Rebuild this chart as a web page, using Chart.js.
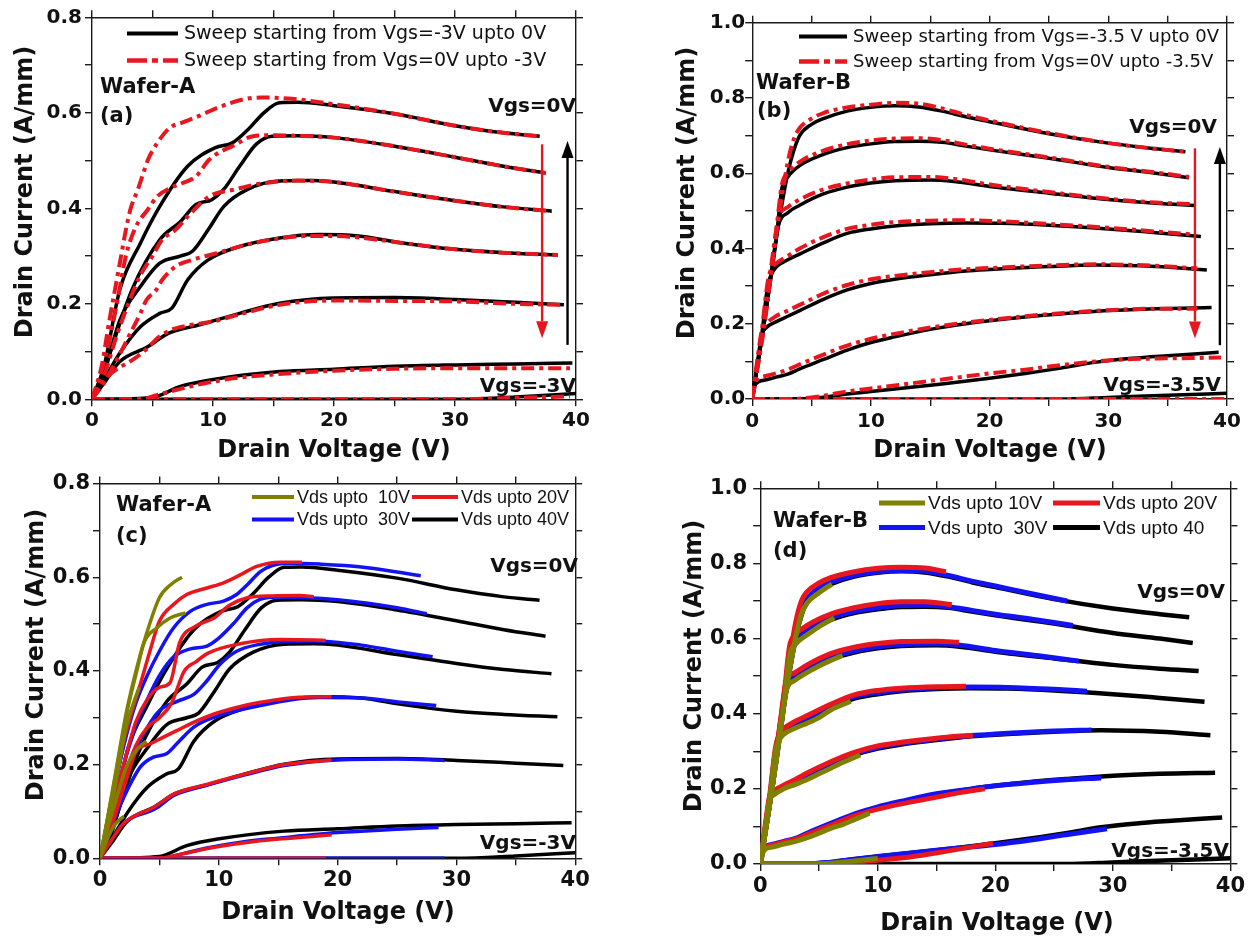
<!DOCTYPE html>
<html><head><meta charset="utf-8">
<script src="https://cdn.jsdelivr.net/npm/chart.js@4.4.0/dist/chart.umd.min.js"></script>
<style>
html,body{margin:0;padding:0;background:#fff;}
body{width:1250px;height:939px;position:relative;overflow:hidden;}
canvas{position:absolute;}
</style></head><body>
<canvas id="pa" width="625" height="470" style="left:0;top:0;width:625px;height:470px"></canvas>
<canvas id="pb" width="625" height="470" style="left:625px;top:0;width:625px;height:470px"></canvas>
<canvas id="pc" width="625" height="469" style="left:0;top:470px;width:625px;height:469px"></canvas>
<canvas id="pd" width="625" height="469" style="left:625px;top:470px;width:625px;height:469px"></canvas>
<script>
// ---------------- data ----------------
const X_MAJOR = [0, 10, 20, 30, 40];
const Y_MAJOR_A = [0, 0.2, 0.4, 0.6, 0.8];
const Y_MAJOR_B = [0, 0.2, 0.4, 0.6, 0.8, 1.0];
const VGS_A = ['0', '-0.5', '-1', '-1.5', '-2', '-2.5', '-3'];
const VGS_B = ['0', '-0.5', '-1', '-1.5', '-2', '-2.5', '-3', '-3.5'];

// Wafer-A, sweep from Vgs=-3V up to 0V (black)
const A_BLACK = [
 [[0,0],[1,0.07],[2.3,0.23],[4,0.327],[5.6,0.404],[7.9,0.488],[10.2,0.527],[11.6,0.537],[12.9,0.565],[14.2,0.6],[15.5,0.621],[17,0.622],[20,0.615],[25,0.598],[30,0.573],[34,0.558],[37,0.551]],
 [[0,0],[1,0.062],[3.3,0.229],[5.6,0.334],[7.3,0.372],[8.6,0.408],[9.9,0.418],[10.9,0.44],[12.2,0.488],[13.6,0.535],[14.9,0.551],[17,0.552],[20,0.548],[25,0.53],[30,0.507],[34,0.488],[37.5,0.474]],
 [[0,0],[1,0.055],[2.3,0.166],[4,0.236],[5.6,0.285],[7.3,0.3],[8.3,0.31],[9.6,0.355],[10.9,0.404],[12.9,0.44],[15.5,0.457],[18,0.458],[20,0.455],[25,0.435],[30,0.416],[34,0.403],[38,0.394]],
 [[0,0],[1,0.041],[2.3,0.097],[4,0.152],[5.6,0.18],[6.6,0.191],[7.9,0.25],[9.6,0.292],[12.2,0.32],[15.5,0.338],[18.8,0.345],[22,0.342],[25.5,0.328],[30,0.314],[34,0.307],[38.5,0.302]],
 [[0,0],[1,0.034],[2.3,0.079],[4.6,0.11],[6.3,0.138],[8.9,0.156],[12.2,0.18],[15.5,0.201],[20,0.212],[25,0.213],[30,0.209],[35,0.203],[39,0.198]],
 [[0,0],[5,0.004],[7.3,0.027],[9.9,0.041],[15.5,0.058],[20,0.063],[25,0.069],[30,0.072],[35,0.074],[39.7,0.076]],
 [[0,0],[30,0],[35,0.005],[40,0.012]]
];
// Wafer-A, sweep from Vgs=0V up to -3V (red dash-dot)
const A_RED = [
 [[0,0],[0.8,0.07],[1.4,0.16],[2.3,0.285],[2.8,0.355],[3.2,0.4],[3.8,0.44],[4.2,0.47],[4.6,0.5],[5.4,0.537],[6.4,0.568],[7.5,0.58],[8.9,0.594],[10.3,0.61],[12.5,0.628],[14,0.632],[16.2,0.63],[20,0.618],[25,0.598],[30,0.573],[34,0.558],[37,0.551]],
 [[0,0],[0.8,0.06],[1.5,0.13],[2.2,0.22],[2.8,0.3],[3.6,0.36],[4.6,0.397],[5.4,0.425],[6.5,0.443],[7.5,0.453],[8.6,0.467],[9.7,0.502],[11.9,0.534],[13.3,0.551],[15,0.553],[17,0.552],[20,0.548],[25,0.53],[30,0.507],[34,0.488],[37.5,0.474]],
 [[0,0],[1,0.05],[2,0.13],[3,0.2],[4,0.26],[5,0.3],[5.8,0.334],[6.9,0.355],[8,0.385],[9.7,0.425],[11.9,0.44],[14,0.452],[17,0.458],[20,0.455],[25,0.435],[30,0.416],[34,0.403],[38,0.394]],
 [[0,0],[1,0.035],[2,0.08],[3,0.13],[4,0.18],[4.5,0.208],[5.3,0.229],[5.8,0.25],[6.9,0.278],[8.3,0.292],[10.3,0.306],[12.5,0.322],[15,0.335],[18,0.342],[20,0.342],[25.5,0.328],[30,0.314],[34,0.307],[38.5,0.302]],
 [[0,0],[0.5,0.02],[1.4,0.05],[2.5,0.07],[3.5,0.085],[4.5,0.105],[5.5,0.13],[6.5,0.145],[8,0.155],[10,0.163],[12.2,0.178],[15.5,0.198],[20,0.207],[25,0.206],[30,0.205],[35,0.2],[39,0.198]],
 [[0,0],[4,0],[5.5,0.01],[7,0.02],[9,0.032],[12,0.045],[15,0.052],[20,0.06],[25,0.064],[30,0.065],[35,0.065],[39.5,0.065]],
 [[0,0],[30,0],[35,0.003],[39.5,0.006]]
];
// Wafer-B, sweep from Vgs=-3.5V up to 0V (black)
const B_BLACK = [
 [[0,0],[1,0.2],[2,0.42],[3,0.6],[3.5,0.66],[4,0.7],[5,0.73],[6,0.745],[8,0.765],[10,0.775],[12,0.779],[14,0.776],[16,0.765],[18,0.75],[20,0.737],[25,0.705],[30,0.68],[34,0.665],[36.5,0.657]],
 [[0,0],[1,0.2],[2,0.42],[2.5,0.56],[3,0.59],[4,0.62],[6,0.65],[8,0.668],[10,0.678],[12,0.684],[14,0.685],[16,0.682],[18,0.672],[20,0.662],[25,0.64],[30,0.615],[34,0.6],[36.8,0.588]],
 [[0,0],[1,0.2],[1.8,0.38],[2.2,0.46],[3,0.495],[4,0.515],[6,0.545],[8,0.563],[10,0.574],[12,0.58],[15,0.582],[17,0.578],[20,0.565],[25,0.547],[30,0.53],[34,0.52],[37.3,0.514]],
 [[0,0],[0.8,0.17],[1.3,0.3],[1.6,0.33],[2,0.35],[3,0.37],[4,0.385],[6,0.415],[8,0.44],[10,0.452],[12,0.46],[15,0.466],[18,0.468],[21,0.467],[25,0.462],[30,0.452],[34,0.442],[37.8,0.432]],
 [[0,0],[0.5,0.11],[0.8,0.17],[1.2,0.19],[2,0.205],[3,0.22],[4,0.235],[6,0.265],[8,0.29],[10,0.307],[12,0.318],[15,0.33],[18,0.34],[20,0.344],[25,0.352],[29,0.356],[34,0.352],[38.3,0.343]],
 [[0,0],[0.3,0.04],[1,0.05],[2,0.058],[3,0.066],[4,0.08],[6,0.105],[8,0.13],[10,0.15],[12,0.165],[15,0.185],[18,0.2],[20,0.208],[23,0.218],[26,0.226],[30,0.235],[34,0.24],[38.7,0.243]],
 [[0,0],[4,0],[6,0.005],[8,0.013],[10,0.02],[13,0.03],[16,0.04],[20,0.055],[23,0.068],[26,0.082],[29,0.098],[32,0.108],[35,0.115],[39.3,0.124]],
 [[0,0],[26,0],[30,0.004],[35,0.01],[40,0.015]]
];
// Wafer-B, sweep from Vgs=0V up to -3.5V (red dash-dot)
const B_RED = [
 [[0,0],[1,0.19],[2,0.43],[3,0.63],[3.5,0.69],[4,0.72],[5,0.745],[6,0.76],[8,0.775],[10,0.782],[12,0.787],[14,0.785],[16,0.772],[18,0.755],[20,0.74],[25,0.707],[30,0.68],[34,0.665],[36.5,0.657]],
 [[0,0],[1,0.2],[2,0.44],[2.5,0.57],[3,0.6],[4,0.63],[6,0.66],[8,0.677],[10,0.687],[12,0.692],[14,0.693],[16,0.688],[18,0.676],[20,0.665],[25,0.642],[30,0.617],[34,0.602],[36.8,0.59]],
 [[0,0],[1,0.2],[1.8,0.4],[2.2,0.48],[3,0.51],[4,0.53],[6,0.557],[8,0.573],[10,0.583],[12,0.589],[15,0.59],[17,0.585],[20,0.57],[25,0.55],[30,0.532],[34,0.522],[37.3,0.518]],
 [[0,0],[0.8,0.18],[1.3,0.31],[1.6,0.345],[2,0.36],[3,0.38],[4,0.4],[6,0.43],[8,0.452],[10,0.463],[12,0.47],[15,0.474],[18,0.475],[21,0.472],[25,0.465],[30,0.455],[34,0.445],[37.3,0.437]],
 [[0,0],[0.5,0.12],[0.8,0.18],[1.2,0.2],[2,0.22],[3,0.235],[4,0.25],[6,0.28],[8,0.303],[10,0.318],[12,0.327],[15,0.337],[18,0.345],[20,0.348],[25,0.355],[29,0.358],[34,0.354],[37.5,0.347]],
 [[0,0],[0.3,0.045],[1,0.06],[2,0.068],[3,0.078],[4,0.092],[6,0.118],[8,0.142],[10,0.16],[12,0.173],[15,0.19],[18,0.203],[20,0.21],[23,0.22],[26,0.228],[30,0.236],[34,0.24],[37.5,0.24]],
 [[0,0],[3,0],[5,0.004],[8,0.02],[10,0.028],[13,0.04],[16,0.052],[20,0.068],[23,0.078],[26,0.09],[29,0.1],[32,0.106],[35,0.108],[39.5,0.11]],
 [[0,0],[40,0]]
];
// Wafer-A, Vds up to 30V / 20V / 10V (panel c). Vds up to 40V = A_BLACK
const C_BLUE = [
 [[0,0],[1,0.12],[2,0.24],[3,0.33],[3.9,0.386],[5,0.442],[6.2,0.492],[7.6,0.527],[9,0.542],[10.4,0.549],[11.5,0.563],[12.4,0.584],[13.5,0.612],[14.5,0.625],[16,0.63],[18.5,0.628],[22,0.622],[25.3,0.61],[27,0.603]],
 [[0,0],[1,0.1],[2,0.2],[3,0.28],[4,0.34],[5,0.39],[6.2,0.43],[7.6,0.447],[9,0.453],[10,0.47],[11.2,0.5],[12.4,0.535],[13.5,0.553],[15,0.558],[20,0.552],[25,0.535],[27.5,0.522]],
 [[0,0],[1,0.08],[2,0.16],[3,0.23],[4,0.28],[5,0.315],[6.5,0.335],[7.9,0.35],[9,0.379],[10.1,0.414],[11.5,0.442],[13.5,0.457],[15.5,0.463],[18,0.464],[22,0.455],[25,0.442],[28,0.43]],
 [[0,0],[1,0.07],[2,0.13],[3.4,0.195],[4.5,0.216],[5.6,0.223],[6.7,0.251],[7.9,0.28],[9.6,0.301],[11.5,0.315],[13.5,0.326],[16,0.338],[18.5,0.343],[22,0.342],[25.3,0.333],[28.3,0.326]],
 [[0,0],[1,0.04],[2,0.075],[4.6,0.105],[6.3,0.135],[8.9,0.155],[12.2,0.178],[15.5,0.198],[20,0.21],[25,0.212],[29,0.209]],
 [[0,0],[5,0],[7,0.01],[9,0.022],[12,0.035],[15,0.043],[20,0.055],[25,0.062],[28.5,0.066]],
 [[0,0],[29,0]]
];
const C_RED = [
 [[0,0],[1,0.13],[2,0.25],[3.4,0.372],[4.2,0.442],[5,0.506],[6.2,0.542],[7.3,0.563],[9,0.577],[10.4,0.588],[11.8,0.605],[13.2,0.623],[15.2,0.632],[17,0.632]],
 [[0,0],[1,0.1],[2,0.2],[3,0.29],[4,0.34],[5,0.365],[5.9,0.375],[6.7,0.46],[8.1,0.496],[9.6,0.513],[10.9,0.54],[12.4,0.556],[14.5,0.56],[16.8,0.561],[18,0.558]],
 [[0,0],[1,0.08],[2,0.17],[3,0.24],[4,0.28],[5,0.3],[6,0.33],[7.1,0.4],[8.1,0.42],[9.1,0.438],[11.8,0.458],[15.2,0.467],[18,0.466],[19,0.465]],
 [[0,0],[1,0.07],[2,0.15],[3.1,0.23],[4.2,0.244],[5.3,0.258],[6.5,0.273],[7.6,0.287],[9.6,0.308],[11.5,0.322],[13.5,0.333],[16.8,0.344],[19.5,0.345]],
 [[0,0],[1,0.04],[2,0.075],[4.6,0.11],[6.3,0.138],[8.9,0.157],[12.2,0.18],[15.5,0.2],[19.5,0.21]],
 [[0,0],[5,0],[7,0.01],[10,0.025],[13,0.036],[16,0.043],[19.5,0.05]],
 [[0,0],[19,0]]
];
const C_OLIVE = [
 [[0,0],[0.6,0.08],[1.4,0.195],[2.25,0.315],[3.1,0.407],[3.9,0.478],[5,0.556],[6,0.585],[6.9,0.6]],
 [[0,0],[0.6,0.08],[1.4,0.19],[2.25,0.31],[3.1,0.4],[3.7,0.46],[4.8,0.492],[5.9,0.513],[7.2,0.524]],
 [[0,0],[0.6,0.07],[1.4,0.17],[2.2,0.28],[2.8,0.33],[3.3,0.365]],
 [[0,0],[0.6,0.06],[1.4,0.13],[2.3,0.2],[3.2,0.235],[3.9,0.25]],
 [[0,0],[0.6,0.04],[1.2,0.07],[2,0.09]]
];
// Wafer-B, Vds up to 30V / 20V / 10V (panel d). Vds up to 40V = B_BLACK
const D_BLUE = [
 [[0,0],[1,0.2],[2,0.42],[3,0.6],[3.5,0.67],[4,0.705],[5,0.735],[6,0.75],[8,0.768],[10,0.777],[12,0.781],[14,0.779],[16,0.768],[18,0.753],[20,0.74],[23,0.72],[26.1,0.7]],
 [[0,0],[1,0.2],[2,0.42],[2.5,0.565],[3,0.595],[4,0.625],[6,0.655],[8,0.672],[10,0.682],[12,0.688],[14,0.689],[16,0.685],[18,0.675],[20,0.665],[23,0.652],[26.6,0.635]],
 [[0,0],[1,0.2],[1.8,0.39],[2.2,0.47],[3,0.5],[4,0.52],[6,0.55],[8,0.567],[10,0.578],[12,0.584],[15,0.586],[17,0.582],[20,0.568],[24,0.553],[27.1,0.54]],
 [[0,0],[0.8,0.17],[1.3,0.3],[1.6,0.335],[2,0.355],[3,0.375],[4,0.39],[6,0.42],[8,0.445],[10,0.456],[12,0.463],[15,0.469],[18,0.471],[21,0.47],[25,0.465],[27.8,0.46]],
 [[0,0],[0.5,0.11],[0.8,0.17],[1.2,0.19],[2,0.207],[3,0.222],[4,0.238],[6,0.268],[8,0.293],[10,0.31],[12,0.321],[15,0.333],[18,0.342],[20,0.346],[25,0.354],[28.2,0.357]],
 [[0,0],[0.3,0.04],[1,0.052],[2,0.06],[3,0.068],[4,0.082],[6,0.108],[8,0.133],[10,0.152],[12,0.167],[15,0.187],[18,0.2],[20,0.208],[23,0.217],[26,0.224],[29,0.229]],
 [[0,0],[4,0],[6,0.005],[8,0.013],[10,0.02],[13,0.03],[16,0.04],[20,0.052],[23,0.064],[26,0.078],[29.5,0.094]]
];
const D_RED = [
 [[0,0],[1,0.21],[2,0.44],[3,0.64],[3.5,0.7],[4,0.725],[5,0.748],[6,0.762],[8,0.778],[10,0.787],[12,0.79],[14,0.788],[15.8,0.778]],
 [[0,0],[1,0.21],[2,0.44],[2.5,0.58],[3,0.61],[4,0.635],[6,0.665],[8,0.682],[10,0.693],[12,0.698],[14,0.698],[16.3,0.69]],
 [[0,0],[1,0.21],[1.8,0.4],[2.2,0.485],[3,0.51],[4,0.53],[6,0.56],[8,0.577],[10,0.587],[12,0.592],[15,0.593],[16.9,0.59]],
 [[0,0],[0.8,0.18],[1.3,0.31],[1.6,0.345],[2,0.36],[3,0.38],[4,0.395],[6,0.425],[8,0.45],[10,0.462],[12,0.468],[15,0.472],[17.5,0.473]],
 [[0,0],[0.5,0.12],[0.8,0.18],[1.2,0.195],[2,0.21],[3,0.225],[4,0.242],[6,0.272],[8,0.297],[10,0.314],[12,0.324],[15,0.335],[18.1,0.343]],
 [[0,0],[0.3,0.04],[1,0.05],[2,0.058],[3,0.066],[4,0.078],[6,0.103],[8,0.128],[10,0.146],[12,0.16],[15,0.178],[17,0.19],[19.1,0.2]],
 [[0,0],[5,0],[7,0.003],[10,0.01],[13,0.02],[16,0.035],[19.8,0.055]]
];
const D_OLIVE = [
 [[0,0],[1,0.2],[2,0.42],[3,0.6],[3.5,0.665],[4,0.695],[5,0.722],[6.1,0.745]],
 [[0,0],[1,0.2],[2,0.42],[2.5,0.555],[3,0.585],[4,0.61],[5,0.632],[6.3,0.655]],
 [[0,0],[1,0.2],[1.8,0.38],[2.2,0.46],[3,0.49],[4,0.51],[5,0.527],[6,0.542],[7,0.555]],
 [[0,0],[0.8,0.17],[1.3,0.3],[1.6,0.33],[2,0.345],[3,0.362],[4,0.375],[5,0.39],[6,0.41],[7.7,0.433]],
 [[0,0],[0.5,0.11],[0.8,0.17],[1.2,0.185],[2,0.2],[3,0.212],[4,0.225],[5,0.24],[6,0.255],[7,0.27],[8.5,0.29]],
 [[0,0],[0.3,0.035],[1,0.045],[2,0.053],[3,0.06],[4,0.07],[5,0.082],[6,0.095],[7,0.105],[8,0.118],[9.3,0.135]],
 [[0,0],[4,0],[6,0.002],[8,0.008],[10,0.015]]
];
// arrows: [Vds, from Id, to Id]
const A_ARROW_DOWN = [37.2, 0.534, 0.128];
const A_ARROW_UP = [39.3, 0.114, 0.541];
const B_ARROW_DOWN = [37.3, 0.666, 0.161];
const B_ARROW_UP = [39.4, 0.143, 0.67];

// ---------------- styling / building ----------------
const RED = '#e8161e', BLUE = '#1212f2', OLIVE = '#808000', BLACK = '#000000';
const TXT = '#111111';
const DV = '"DejaVu Sans", sans-serif';
const LS = '"Liberation Sans", Arial, sans-serif';

function mk(curves, vgs, tag, color, width, dash, order) {
  return curves.map((c, i) => ({
    label: tag + ' Vgs=' + vgs[i] + 'V',
    data: c.map(p => ({x: p[0], y: p[1]})),
    borderColor: color, backgroundColor: color,
    borderWidth: width, borderDash: dash,
    borderCapStyle: 'butt', borderJoinStyle: 'round',
    pointRadius: 0, pointHoverRadius: 0, fill: false,
    cubicInterpolationMode: 'monotone', order: order
  }));
}

function drawDecor(chart, d) {
  const ctx = chart.ctx;
  ctx.save();
  // legend samples
  d.legend.forEach(l => {
    ctx.save();
    ctx.strokeStyle = l.color; ctx.lineWidth = l.width; ctx.lineCap = 'butt';
    ctx.setLineDash(l.dash || []);
    ctx.beginPath(); ctx.moveTo(l.x0, l.y); ctx.lineTo(l.x1, l.y); ctx.stroke();
    ctx.setLineDash([]);
    ctx.fillStyle = TXT; ctx.font = l.font; ctx.textAlign = 'left'; ctx.textBaseline = 'middle';
    ctx.fillText(l.text, l.tx, l.y + 1);
    ctx.restore();
  });
  // free texts
  d.texts.forEach(t => {
    ctx.fillStyle = TXT; ctx.font = t.font; ctx.textAlign = t.align; ctx.textBaseline = 'middle';
    ctx.fillText(t.text, t.x, t.y);
  });
  // axis titles
  ctx.fillStyle = TXT;
  ctx.font = 'bold 24px ' + DV;
  ctx.textAlign = 'center'; ctx.textBaseline = 'alphabetic';
  ctx.fillText('Drain Voltage (V)', d.xt[0], d.xt[1]);
  ctx.save();
  ctx.translate(d.yt[0], d.yt[1]); ctx.rotate(-Math.PI / 2);
  ctx.textBaseline = 'middle';
  ctx.fillText('Drain Current (A/mm)', 0, 0);
  ctx.restore();
  // arrows (through the chart scales)
  const xs = chart.scales.x, ys = chart.scales.y;
  d.arrows.forEach(a => {
    const X = xs.getPixelForValue(a.v[0]);
    const Y0 = ys.getPixelForValue(a.v[1]);
    const Y1 = ys.getPixelForValue(a.v[2]);
    const dir = Math.sign(Y1 - Y0), hl = 17, hw = 6;
    ctx.strokeStyle = a.color; ctx.fillStyle = a.color; ctx.lineWidth = 2.4;
    ctx.beginPath(); ctx.moveTo(X, Y0); ctx.lineTo(X, Y1 - dir * hl); ctx.stroke();
    ctx.beginPath(); ctx.moveTo(X, Y1); ctx.lineTo(X - hw, Y1 - dir * hl); ctx.lineTo(X + hw, Y1 - dir * hl); ctx.closePath(); ctx.fill();
  });
  ctx.restore();
}

function panel(id, W, H, area, yMax, yMajor, tickSize, xPad, yPad, datasets, decor) {
  const tickFont = {family: DV, size: tickSize, weight: 'bold', lineHeight: 1};
  const grid = {drawOnChartArea: false, drawTicks: true, tickLength: 7, color: '#1a1a1a', lineWidth: 1.4};
  const border = {display: true, color: '#1a1a1a', width: 1.4};
  return new Chart(document.getElementById(id), {
    type: 'line',
    data: {datasets},
    options: {
      responsive: false, animation: false, devicePixelRatio: 1, events: [],
      layout: {padding: 0, autoPadding: false},
      plugins: {legend: {display: false}, tooltip: {enabled: false}},
      scales: {
        x: {type: 'linear', position: 'bottom', min: 0, max: 40,
            ticks: {stepSize: 5, autoSkip: false, maxRotation: 0, padding: xPad, font: tickFont, color: TXT,
                    callback: v => X_MAJOR.includes(v) ? String(v) : ''},
            grid, border, afterFit: s => { s.height = H - area.b; }},
        x2: {type: 'linear', position: 'top', min: 0, max: 40,
            ticks: {stepSize: 5, autoSkip: false, display: false},
            grid, border, afterFit: s => { s.height = area.t; }},
        y: {type: 'linear', position: 'left', min: 0, max: yMax,
            ticks: {stepSize: 0.1, autoSkip: false, padding: yPad, font: tickFont, color: TXT,
                    callback: v => yMajor.some(m => Math.abs(m - v) < 1e-6) ? v.toFixed(1) : ''},
            grid, border, afterFit: s => { s.width = area.l; }},
        y2: {type: 'linear', position: 'right', min: 0, max: yMax,
            ticks: {stepSize: 0.1, autoSkip: false, display: false},
            grid, border, afterFit: s => { s.width = W - area.r; }}
      }
    },
    plugins: [{id: 'decor_' + id, afterDraw: chart => drawDecor(chart, decor)}]
  });
}

const DASHDOT = [13, 5, 4, 5];

// ---- panel (a)
panel('pa', 625, 470, {l: 92, r: 576, t: 17.3, b: 399.3}, 0.8, Y_MAJOR_A, 20, 4, 3,
  [].concat(mk(A_RED, VGS_A, 'Sweep 0V to -3V', RED, 4, DASHDOT, 1),
            mk(A_BLACK, VGS_A, 'Sweep -3V to 0V', BLACK, 3.5, [], 2)),
  {
    legend: [
      {x0: 127, x1: 178, y: 33.5, color: BLACK, width: 4, dash: [], text: 'Sweep starting from Vgs=-3V upto 0V', tx: 184, font: '19px ' + DV},
      {x0: 127, x1: 178, y: 60.5, color: RED, width: 4.5, dash: [20, 5, 6, 5], text: 'Sweep starting from Vgs=0V upto -3V', tx: 184, font: '19px ' + DV}
    ],
    texts: [
      {text: 'Wafer-A', x: 100, y: 88, align: 'left', font: 'bold 21px ' + DV},
      {text: '(a)', x: 100, y: 117, align: 'left', font: 'bold 21px ' + DV},
      {text: 'Vgs=0V', x: 576, y: 107, align: 'right', font: 'bold 20px ' + DV},
      {text: 'Vgs=-3V', x: 576, y: 387, align: 'right', font: 'bold 20px ' + DV}
    ],
    xt: [334, 457], yt: [26, 192],
    arrows: [{v: A_ARROW_DOWN, color: RED}, {v: A_ARROW_UP, color: BLACK}]
  });

// ---- panel (b)
panel('pb', 625, 470, {l: 127.2, r: 602, t: 22.7, b: 399}, 1.0, Y_MAJOR_B, 20, 6, 0,
  [].concat(mk(B_RED, VGS_B, 'Sweep 0V to -3.5V', RED, 4, DASHDOT, 1),
            mk(B_BLACK, VGS_B, 'Sweep -3.5V to 0V', BLACK, 3.5, [], 2)),
  {
    legend: [
      {x0: 174, x1: 222, y: 36.5, color: BLACK, width: 4, dash: [], text: 'Sweep starting from Vgs=-3.5 V upto 0V', tx: 228, font: '18px ' + DV},
      {x0: 174, x1: 222, y: 61.5, color: RED, width: 4.5, dash: [20, 5, 6, 5], text: 'Sweep starting from Vgs=0V upto -3.5V', tx: 228, font: '18px ' + DV}
    ],
    texts: [
      {text: 'Wafer-B', x: 131, y: 84, align: 'left', font: 'bold 21px ' + DV},
      {text: '(b)', x: 132, y: 112, align: 'left', font: 'bold 21px ' + DV},
      {text: 'Vgs=0V', x: 592, y: 128, align: 'right', font: 'bold 20px ' + DV},
      {text: 'Vgs=-3.5V', x: 596, y: 386, align: 'right', font: 'bold 20px ' + DV}
    ],
    xt: [365, 457], yt: [63, 193],
    arrows: [{v: B_ARROW_DOWN, color: RED}, {v: B_ARROW_UP, color: BLACK}]
  });

// ---- panel (c)
panel('pc', 625, 469, {l: 100, r: 575.2, t: 11.7, b: 388.3}, 0.8, Y_MAJOR_A, 21, 5, 3,
  [].concat(mk(C_OLIVE, VGS_A, 'Vds upto 10V', OLIVE, 3.5, [], 1),
            mk(C_RED, VGS_A, 'Vds upto 20V', RED, 3.5, [], 2),
            mk(C_BLUE, VGS_A, 'Vds upto 30V', BLUE, 3.5, [], 3),
            mk(A_BLACK, VGS_A, 'Vds upto 40V', BLACK, 3.5, [], 4)),
  {
    legend: [
      {x0: 252, x1: 294, y: 27, color: OLIVE, width: 4, text: 'Vds upto  10V', tx: 297, font: '18px ' + LS},
      {x0: 412, x1: 458, y: 27, color: RED, width: 4, text: 'Vds upto 20V', tx: 461, font: '18px ' + LS},
      {x0: 252, x1: 294, y: 49.5, color: BLUE, width: 4, text: 'Vds upto  30V', tx: 297, font: '18px ' + LS},
      {x0: 412, x1: 458, y: 49.5, color: BLACK, width: 4, text: 'Vds upto 40V', tx: 461, font: '18px ' + LS}
    ],
    texts: [
      {text: 'Wafer-A', x: 116, y: 36, align: 'left', font: 'bold 21px ' + DV},
      {text: '(c)', x: 116, y: 67, align: 'left', font: 'bold 21px ' + DV},
      {text: 'Vgs=0V', x: 578, y: 97, align: 'right', font: 'bold 20px ' + DV},
      {text: 'Vgs=-3V', x: 576, y: 374, align: 'right', font: 'bold 20px ' + DV}
    ],
    xt: [338, 449], yt: [37, 185],
    arrows: []
  });

// ---- panel (d)
panel('pd', 625, 469, {l: 135.2, r: 608.8, t: 18.3, b: 394}, 1.0, Y_MAJOR_B, 21, 5, 6,
  [].concat(mk(D_OLIVE, VGS_B, 'Vds upto 10V', OLIVE, 5, [], 1),
            mk(D_RED, VGS_B, 'Vds upto 20V', RED, 5, [], 2),
            mk(D_BLUE, VGS_B, 'Vds upto 30V', BLUE, 5, [], 3),
            mk(B_BLACK, VGS_B, 'Vds upto 40V', BLACK, 4.5, [], 4)),
  {
    legend: [
      {x0: 254, x1: 300, y: 33, color: OLIVE, width: 5, text: 'Vds upto 10V', tx: 303, font: '19px ' + LS},
      {x0: 428, x1: 475, y: 33, color: RED, width: 5, text: 'Vds upto 20V', tx: 478, font: '19px ' + LS},
      {x0: 254, x1: 300, y: 57.5, color: BLUE, width: 5, text: 'Vds upto  30V', tx: 303, font: '19px ' + LS},
      {x0: 428, x1: 475, y: 57.5, color: BLACK, width: 5, text: 'Vds upto 40', tx: 478, font: '19px ' + LS}
    ],
    texts: [
      {text: 'Wafer-B', x: 148, y: 52, align: 'left', font: 'bold 21px ' + DV},
      {text: '(d)', x: 148, y: 82, align: 'left', font: 'bold 21px ' + DV},
      {text: 'Vgs=0V', x: 600, y: 123, align: 'right', font: 'bold 20px ' + DV},
      {text: 'Vgs=-3.5V', x: 604, y: 382, align: 'right', font: 'bold 20px ' + DV}
    ],
    xt: [372, 460], yt: [70, 196],
    arrows: []
  });
</script>
</body></html>
